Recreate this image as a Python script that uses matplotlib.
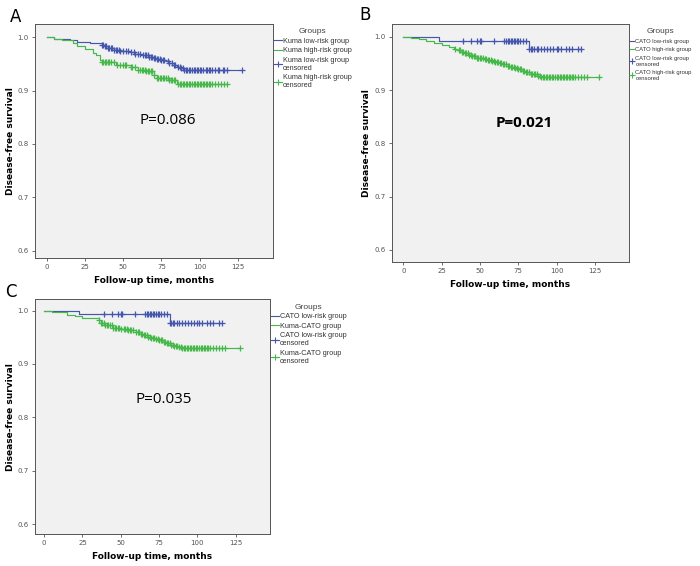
import numpy as np
import matplotlib
matplotlib.use("Agg")
import matplotlib.pyplot as plt
from matplotlib.lines import Line2D

BLUE = "#4557ad"
GREEN = "#45b84a"
BG = "#f1f1f1"

# ---------------- data ----------------
# Panel A
A_low_t = [5, 15, 20, 28, 36, 38, 40, 44, 48, 55, 58, 62, 67, 70, 72, 75, 78, 80, 83, 85, 88, 90]
A_low_s = [0.997, 0.995, 0.992, 0.989, 0.986, 0.983, 0.980, 0.977, 0.975, 0.972, 0.969, 0.967,
           0.964, 0.962, 0.960, 0.957, 0.955, 0.952, 0.948, 0.945, 0.942, 0.939]
A_low_c = [36, 37, 38, 39, 40, 41, 42, 43, 44, 45, 46, 47, 48, 50, 52, 53, 55, 57, 58, 60, 61, 63,
           64, 65, 66, 67, 68, 69, 70, 71, 72, 73, 74, 75, 76, 77, 79, 80, 82, 83, 84, 86, 87, 88,
           89, 90, 91, 92, 93, 94, 95, 96, 97, 98, 99, 100, 101, 102, 104, 105, 106, 107, 108,
           110, 112, 113, 115, 116, 118, 128]
A_high_t = [5, 10, 17, 20, 25, 30, 32, 35, 36, 45, 55, 60, 65, 70, 72, 80, 85]
A_high_s = [0.997, 0.995, 0.990, 0.983, 0.978, 0.971, 0.967, 0.958, 0.953, 0.948, 0.945, 0.939,
            0.936, 0.929, 0.923, 0.920, 0.912]
A_high_c = [36, 37, 38, 39, 40, 41, 42, 44, 46, 48, 50, 51, 52, 55, 56, 58, 60, 61, 62, 63, 64,
            65, 66, 67, 68, 69, 70, 72, 73, 74, 75, 76, 77, 78, 79, 80, 81, 82, 83, 84, 86, 87,
            88, 89, 90, 91, 92, 93, 94, 95, 96, 97, 98, 99, 100, 101, 102, 103, 104, 105, 106,
            107, 108, 110, 112, 114, 116, 118]

# Panel B / C low-risk (CATO low-risk group)
BC_low_t = [23, 82]
BC_low_s = [0.993, 0.977]
BC_low_c = [39, 44, 48, 50, 51, 59, 66, 67, 68, 69, 70, 71, 72, 73, 74, 75, 76, 78, 80, 82, 83,
            84, 85, 87, 88, 90, 92, 94, 96, 98, 100, 101, 103, 106, 108, 110, 114, 116]

# Panel B high-risk
B_high_t = [5, 10, 15, 20, 25, 30, 33, 35, 38, 40, 43, 45, 48, 50, 53, 55, 58, 60, 63, 65, 68,
            70, 73, 75, 78, 80, 83, 85, 88, 90]
B_high_s = [0.998, 0.995, 0.992, 0.989, 0.984, 0.980, 0.977, 0.975, 0.971, 0.969, 0.966, 0.964,
            0.961, 0.960, 0.958, 0.957, 0.955, 0.953, 0.951, 0.949, 0.946, 0.944, 0.941, 0.939,
            0.936, 0.934, 0.931, 0.930, 0.927, 0.924]
B_high_c = [34, 36, 37, 38, 39, 40, 41, 42, 43, 44, 45, 46, 47, 48, 49, 50, 51, 52, 53, 54, 55,
            56, 57, 58, 59, 60, 61, 62, 63, 64, 65, 66, 67, 68, 69, 70, 71, 72, 73, 74, 75, 76,
            77, 78, 79, 80, 81, 82, 83, 84, 85, 86, 87, 88, 89, 90, 91, 92, 93, 94, 95, 96, 97,
            98, 99, 100, 101, 102, 103, 104, 105, 106, 107, 108, 109, 110, 111, 112, 114, 116,
            118, 120, 128]

# Panel C high (Kuma-CATO group)
C_high_t = [5, 15, 20, 25, 36, 37, 40, 45, 50, 55, 60, 63, 65, 68, 70, 73, 75, 78, 80, 83, 85, 88, 90]
C_high_s = [0.998, 0.992, 0.989, 0.986, 0.982, 0.977, 0.973, 0.968, 0.966, 0.964, 0.959, 0.956,
            0.954, 0.951, 0.949, 0.947, 0.945, 0.941, 0.939, 0.936, 0.934, 0.931, 0.929]
C_high_c = [36, 37, 38, 39, 40, 41, 42, 43, 44, 45, 46, 47, 48, 49, 50, 52, 53, 54, 55, 56, 57,
            58, 60, 61, 62, 63, 64, 65, 66, 67, 68, 69, 70, 71, 72, 73, 74, 75, 76, 77, 78, 79,
            80, 81, 82, 83, 84, 85, 86, 87, 88, 89, 90, 91, 92, 93, 94, 95, 96, 97, 98, 99, 100,
            101, 102, 103, 104, 105, 106, 107, 108, 110, 112, 114, 116, 118, 128]

P_values = ["P=0.086", "P=0.021", "P=0.035"]
labels_A = ["Kuma low-risk group", "Kuma high-risk group",
            "Kuma low-risk group\ncensored", "Kuma high-risk group\ncensored"]
labels_B = ["CATO low-risk group", "CATO high-risk group",
            "CATO low-risk group\ncensored", "CATO high-risk group\ncensored"]
labels_C = ["CATO low-risk group", "Kuma-CATO group",
            "CATO low-risk group\ncensored", "Kuma-CATO group\ncensored"]
xticks = [0, 25, 50, 75, 100, 125]
yticks = [0.6, 0.7, 0.8, 0.9, 1.0]


def surv_at(t_ev, s_ev, t):
    t_ev = np.asarray(t_ev)
    s_ev = np.asarray(s_ev)
    idx = np.searchsorted(t_ev, t, side="right") - 1
    return np.where(idx >= 0, s_ev[np.clip(idx, 0, None)], 1.0)


def km(ax, t_ev, s_ev, cens, color):
    tmax = max(max(cens), max(t_ev))
    xs = np.concatenate([[0], t_ev, [tmax]])
    ys = np.concatenate([[1.0], s_ev, [s_ev[-1]]])
    ax.step(xs, ys, where="post", color=color, lw=0.85)
    c = np.asarray(cens, float)
    ax.plot(c, surv_at(t_ev, s_ev, c), linestyle="none", marker="+", ms=4,
            mew=0.9, color=color)


fig = plt.figure(figsize=(7, 5.66), dpi=100)
fig.patch.set_facecolor("white")

panels = [
    ("A", [0.05, 0.5442, 0.34, 0.4134], (-7.7, 148), (0.586, 1.025),
     (A_low_t, A_low_s, A_low_c), (A_high_t, A_high_s, A_high_c), labels_A, (79, 0.844)),
    ("B", [0.5596, 0.5376, 0.339, 0.42], (-7.6, 147.3), (0.578, 1.024),
     (BC_low_t, BC_low_s, BC_low_c), (B_high_t, B_high_s, B_high_c), labels_B, (79, 0.839)),
    ("C", [0.05, 0.0565, 0.3357, 0.4147], (-5.9, 147.3), (0.582, 1.021),
     (BC_low_t, BC_low_s, BC_low_c), (C_high_t, C_high_s, C_high_c), labels_C, (78, 0.833)),
]
letter_pos = {"A": (10, 22), "B": (359, 20), "C": (5, 297)}
leg_size = {"A": 5.2, "B": 4.2, "C": 5.2}
leg_hl = {"A": 1.1, "B": 0.8, "C": 1.1}
leg_sp = {"A": 0.35, "B": 0.6, "C": 0.35}

for i, (letter, pos, xl, yl, low, high, labs, ptxt) in enumerate(panels):
    ax = fig.add_axes(pos)
    ax.set_facecolor(BG)
    km(ax, *low, BLUE)
    km(ax, *high, GREEN)
    ax.set_xlim(*xl)
    ax.set_ylim(*yl)
    ax.set_xticks(xticks)
    ax.set_yticks(yticks)
    ax.set_xticklabels([str(v) for v in xticks])
    ax.set_yticklabels(["%.1f" % v for v in yticks])
    ax.tick_params(labelsize=5, colors="#555555", length=2.5, width=0.6, pad=2)
    for sp in ax.spines.values():
        sp.set_color("#555555")
        sp.set_linewidth(0.7)
    ax.set_xlabel("Follow-up time, months", fontsize=6.5, fontweight="bold", labelpad=4)
    ax.set_ylabel("Disease-free survival", fontsize=6.5, fontweight="bold", labelpad=2)
    ax.text(ptxt[0], ptxt[1], P_values[i], fontsize=11,
            fontweight="bold" if letter == "B" else "normal",
            ha="center", va="center", family="Open Sans")
    lx, ly = letter_pos[letter]
    fig.text(lx / 700, 1 - ly / 566, letter, fontsize=12, ha="left", va="baseline")
    handles = [
        Line2D([], [], color=BLUE, lw=0.8),
        Line2D([], [], color=GREEN, lw=0.8),
        Line2D([], [], color=BLUE, lw=0.8, marker="+", ms=5, mew=0.8),
        Line2D([], [], color=GREEN, lw=0.8, marker="+", ms=5, mew=0.8),
    ]
    leg = ax.legend(handles, labs, title="Groups", loc="upper left",
                    bbox_to_anchor=(1.0, 0.985), frameon=False,
                    prop={"family": "Liberation Sans", "size": leg_size[letter]},
                    title_fontproperties={"family": "Liberation Sans", "size": 6},
                    handlelength=leg_hl[letter], handletextpad=0.2,
                    labelspacing=leg_sp[letter], borderaxespad=0.0, borderpad=0.1)
    leg.get_title().set_color("#444444")
    for t in leg.get_texts():
        t.set_color("#333333")

fig.savefig("out.png", dpi=100)
